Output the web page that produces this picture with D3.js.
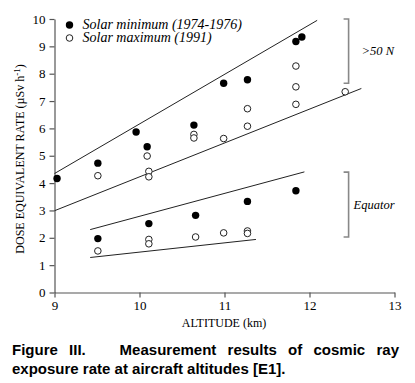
<!DOCTYPE html>
<html>
<head>
<meta charset="utf-8">
<script src="https://cdn.jsdelivr.net/npm/d3@7"></script>
<style>
  html, body { margin: 0; padding: 0; background: #fff; }
  #wrap { position: relative; width: 415px; height: 383px; }
  #caption { position: absolute; left: 12px; top: 340px; width: 387px;
    font-family: "Liberation Sans", Arial, sans-serif; font-weight: bold; font-size: 15px;
    line-height: 19px; color: #000; }
  #caption .l1 { text-align: justify; text-align-last: justify; white-space: normal; }
  #caption .l2 { text-align: left; white-space: nowrap; }
</style>
</head>
<body>
<div id="wrap">
<svg id="chart" width="415" height="383"></svg>
<div id="caption"></div>
</div>
<script>
// ---- data ----
const xTicks = [9, 10, 11, 12, 13];
const yTicks = [0, 1, 2, 3, 4, 5, 6, 7, 8, 9, 10];

// Solar minimum (filled)
const minHighLatAlt = [9.03, 9.51, 9.96, 10.09, 10.64, 10.99, 11.27, 11.84, 11.91];
const minHighLatRate = [4.17, 4.73, 5.87, 5.33, 6.12, 7.65, 7.78, 9.18, 9.34];
const minEquatorAlt = [9.51, 10.11, 10.66, 11.27, 11.84];
const minEquatorRate = [1.97, 2.52, 2.82, 3.33, 3.72];

// Solar maximum (open)
const maxHighLatAlt = [9.51, 10.09, 10.11, 10.11, 10.64, 10.64, 10.99, 11.27, 11.27, 11.84, 11.84, 11.84, 12.42];
const maxHighLatRate = [4.27, 4.99, 4.43, 4.23, 5.78, 5.65, 5.63, 6.72, 6.08, 8.28, 7.52, 6.88, 7.34];
const maxEquatorAlt = [9.51, 10.11, 10.11, 10.66, 10.99, 11.27, 11.27];
const maxEquatorRate = [1.52, 1.94, 1.78, 2.03, 2.18, 2.25, 2.16];

// Fit lines [x1, y1, x2, y2]
const fitLines = [
  [9.0, 4.35, 12.09, 9.95],
  [9.0, 2.99, 12.61, 7.46],
  [9.42, 2.30, 11.94, 4.41],
  [9.42, 1.28, 11.37, 1.94]
];

// Brackets: [x, yTop, yBottom, label]
const brackets = [
  [12.46, 10.0, 7.65, ">50 N"],
  [12.46, 4.4, 2.03, "Equator"]
];

const legendLabels = ["Solar minimum (1974-1976)", "Solar maximum (1991)"];
const captionLines = ["Figure III.\u00A0\u00A0 Measurement results of cosmic ray",
                      "exposure rate at aircraft altitudes [E1]."];

// ---- chart ----
const svg = d3.select("#chart");
const x = d3.scaleLinear().domain([9, 13]).range([54.5, 394.5]);
const y = d3.scaleLinear().domain([0, 10]).range([292.5, 19]);
const serif = '"Liberation Serif", "Times New Roman", serif';
const axisColor = "#555";

const gx = svg.append("g").attr("transform", "translate(0,292.5)")
  .call(d3.axisBottom(x).tickValues(xTicks).tickFormat(d3.format("d")).tickSize(5).tickSizeOuter(0).tickPadding(3));
const gy = svg.append("g").attr("transform", "translate(54.5,0)")
  .call(d3.axisLeft(y).tickValues(yTicks).tickFormat(d3.format("d")).tickSize(5).tickSizeOuter(0).tickPadding(4));
[gx, gy].forEach(g => {
  g.selectAll("path, line").attr("stroke", axisColor).attr("stroke-width", 1.2);
  g.selectAll("text").attr("font-family", serif).attr("font-size", 13).attr("fill", "#000");
});

// Axis titles
svg.append("text").attr("x", 224).attr("y", 327).attr("text-anchor", "middle")
  .attr("font-family", serif).attr("font-size", 12).text("ALTITUDE (km)");
const yl = svg.append("text").attr("transform", "translate(24,159) rotate(-90)")
  .attr("text-anchor", "middle").attr("font-family", serif).attr("font-size", 12);
yl.append("tspan").text("DOSE EQUIVALENT RATE (\u00B5Sv h");
yl.append("tspan").attr("dy", -4).attr("font-size", 9).text("-1");
yl.append("tspan").attr("dy", 4).text(")");

// Fit lines
svg.append("g").selectAll("line").data(fitLines).join("line")
  .attr("x1", d => x(d[0])).attr("y1", d => y(d[1]))
  .attr("x2", d => x(d[2])).attr("y2", d => y(d[3]))
  .attr("stroke", "#222").attr("stroke-width", 1);

// Points
const zipPts = (xs, ys) => xs.map((v, i) => [v, ys[i]]);
const filled = zipPts(minHighLatAlt, minHighLatRate).concat(zipPts(minEquatorAlt, minEquatorRate));
const open = zipPts(maxHighLatAlt, maxHighLatRate).concat(zipPts(maxEquatorAlt, maxEquatorRate));
svg.append("g").selectAll("circle").data(open).join("circle")
  .attr("cx", d => x(d[0])).attr("cy", d => y(d[1])).attr("r", 3.3)
  .attr("fill", "#fff").attr("stroke", "#222").attr("stroke-width", 1);
svg.append("g").selectAll("circle").data(filled).join("circle")
  .attr("cx", d => x(d[0])).attr("cy", d => y(d[1])).attr("r", 3.7)
  .attr("fill", "#000");

// Brackets
const bg = svg.append("g").selectAll("g").data(brackets).join("g");
bg.append("path")
  .attr("d", d => `M${x(d[0]) - 5},${y(d[1])}H${x(d[0])}V${y(d[2])}H${x(d[0]) - 5}`)
  .attr("fill", "none").attr("stroke", "#888").attr("stroke-width", 1.6);
bg.append("text")
  .attr("x", (d, i) => x(d[0]) + (i === 0 ? 13 : 5))
  .attr("y", d => (y(d[1]) + y(d[2])) / 2 + 4)
  .attr("font-family", serif).attr("font-style", "italic").attr("font-size", 12.5)
  .text(d => d[3]);

// Legend
const lg = svg.append("g").selectAll("g").data(legendLabels).join("g")
  .attr("transform", (d, i) => `translate(69.5,${25 + i * 13})`);
lg.append("circle").attr("r", (d, i) => i === 0 ? 3.7 : 3.3)
  .attr("fill", (d, i) => i === 0 ? "#000" : "#fff")
  .attr("stroke", (d, i) => i === 0 ? "none" : "#222");
lg.append("text").attr("x", 13).attr("y", 4)
  .attr("font-family", serif).attr("font-style", "italic").attr("font-size", 14)
  .text(d => d);

// Caption
d3.select("#caption").selectAll("div").data(captionLines).join("div")
  .attr("class", (d, i) => i === 0 ? "l1" : "l2")
  .text(d => d);
</script>
</body>
</html>
